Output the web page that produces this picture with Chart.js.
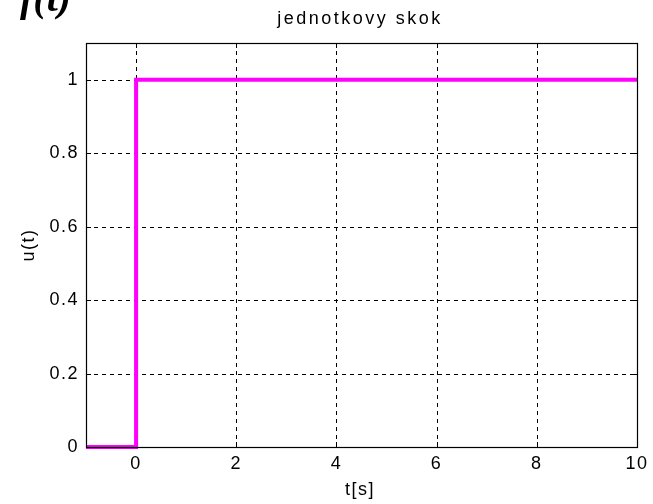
<!DOCTYPE html>
<html><head><meta charset="utf-8">
<script src="https://cdn.jsdelivr.net/npm/chart.js@4/dist/chart.umd.min.js"></script>
<style>html,body{margin:0;padding:0;background:#fff;}#wrap{position:relative;width:653px;height:504px;overflow:hidden;}
#ft{position:absolute;left:20px;top:-26px;font:bold 40px "Liberation Serif",serif;font-style:italic;color:#000;}</style>
</head><body><div id="wrap"><div id="ft">f(t)</div><canvas id="c" width="653" height="504"></canvas></div>
<script>
const titleText = "jednotkovy skok";
const xLabel = "t[s]";
const yLabel = "u(t)";
const stepT = [-1, 0, 0, 10];
const stepU = [0, 0, 1, 1];
const xTicks = [0, 2, 4, 6, 8, 10];
const yTicks = [0, 0.2, 0.4, 0.6, 0.8, 1];

const FONT = 'Liberation Sans';
const deco = {
  id: 'deco',
  beforeDraw(chart) { chart.ctx.letterSpacing = '1.5px'; },
  beforeDatasetsDraw(chart) {
    const {ctx, chartArea: a, scales: {x, y}} = chart;
    ctx.save();
    ctx.strokeStyle = '#000'; ctx.lineWidth = 1; ctx.setLineDash([4, 4]);
    xTicks.forEach(v => { const px = Math.round(x.getPixelForValue(v)) + 0.5; if (v === 10) return;
      ctx.beginPath(); ctx.moveTo(px, a.top); ctx.lineTo(px, a.bottom); ctx.stroke(); });
    yTicks.forEach(v => { const py = Math.round(y.getPixelForValue(v)) + 0.5; if (v === 0) return;
      ctx.beginPath(); ctx.moveTo(a.left, py); ctx.lineTo(a.right, py); ctx.stroke(); });
    ctx.setLineDash([]);
    ctx.beginPath();
    xTicks.forEach(v => { const px = Math.round(x.getPixelForValue(v)) + 0.5;
      ctx.moveTo(px, a.bottom); ctx.lineTo(px, a.bottom - 5); ctx.moveTo(px, a.top); ctx.lineTo(px, a.top + 5); });
    yTicks.forEach(v => { const py = Math.round(y.getPixelForValue(v)) + 0.5;
      ctx.moveTo(a.left, py); ctx.lineTo(a.left + 5, py); ctx.moveTo(a.right, py); ctx.lineTo(a.right - 5, py); });
    ctx.stroke();
    ctx.restore();
  },
  afterDraw(chart) {
    const {ctx, chartArea: a} = chart;
    ctx.save();
    ctx.strokeStyle = '#000'; ctx.lineWidth = 1.2;
    ctx.strokeRect(Math.round(a.left) + 0.5, Math.round(a.top) + 0.5, Math.round(a.right - a.left), Math.round(a.bottom - a.top));
    ctx.fillStyle = '#000';
    ctx.textAlign = 'center'; ctx.textBaseline = 'middle';
    ctx.letterSpacing = '2.5px';
    ctx.font = '18px "Liberation Sans", Arial, sans-serif';
    ctx.fillText(titleText, 360, 19);
    ctx.letterSpacing = '1.5px';
    ctx.font = '18px "Liberation Sans", Arial, sans-serif';
    ctx.fillText(xLabel, 360, 490);
    ctx.translate(29, (a.top + a.bottom) / 2); ctx.rotate(-Math.PI / 2);
    ctx.fillText(yLabel, 0, 0);
    ctx.restore();
  }
};

new Chart(document.getElementById('c'), {
  type: 'scatter',
  data: { datasets: [{
    data: stepT.map((t, i) => ({x: t, y: stepU[i]})),
    showLine: true, borderColor: '#ff00ff', borderWidth: 4, pointRadius: 0,
    borderJoinStyle: 'miter', borderCapStyle: 'butt', clip: false
  }]},
  options: {
    responsive: false, animation: false, devicePixelRatio: 1,
    layout: { padding: { top: 43, right: 16, left: 0, bottom: 0 } },
    plugins: { legend: { display: false }, title: { display: false }, tooltip: { enabled: false } },
    scales: {
      x: { type: 'linear', min: -1, max: 10,
        afterBuildTicks: s => { s.ticks = xTicks.map(v => ({value: v})); },
        afterFit: s => { s.height = 57; },
        grid: { display: false, drawTicks: false }, border: { display: false },
        ticks: { color: '#000', font: { family: FONT, size: 18 }, padding: 6, maxRotation: 0,
          callback: v => String(v) } },
      y: { type: 'linear', min: 0, max: 1.1,
        afterBuildTicks: s => { s.ticks = yTicks.map(v => ({value: v})); },
        afterFit: s => { s.width = 86; },
        grid: { display: false, drawTicks: false }, border: { display: false },
        ticks: { color: '#000', font: { family: FONT, size: 18 }, padding: 7,
          callback: v => String(+v.toFixed(1)) } }
    }
  },
  plugins: [deco]
});
</script></body></html>
